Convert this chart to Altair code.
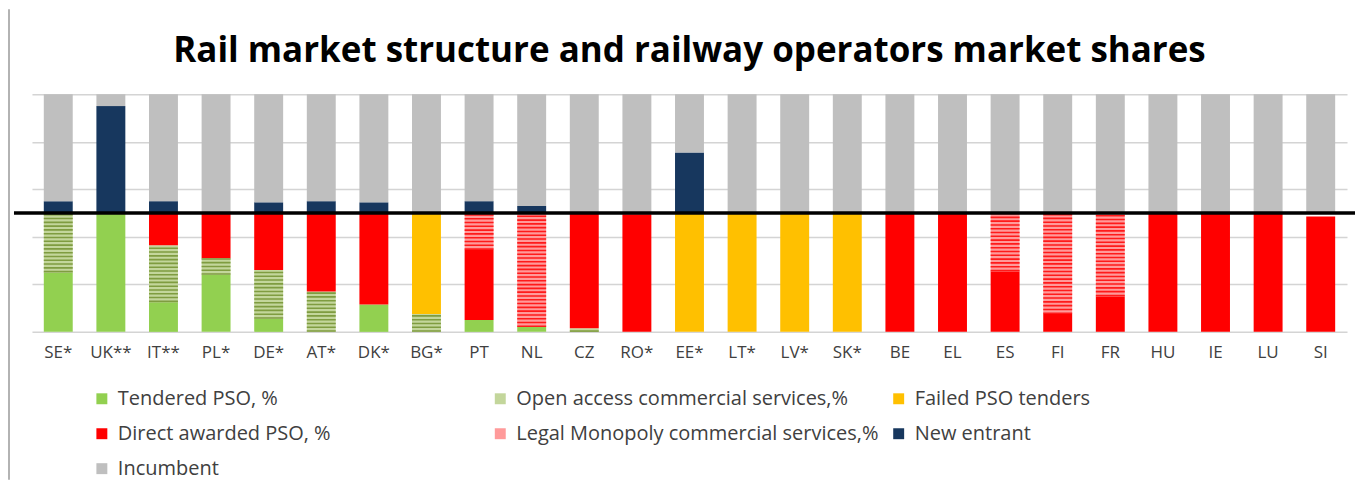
import altair as alt
import pandas as pd

countries = ["SE*", "UK**", "IT**", "PL*", "DE*", "AT*", "DK*", "BG*", "PT", "NL",
             "CZ", "RO*", "EE*", "LT*", "LV*", "SK*", "BE", "EL", "ES", "FI",
             "FR", "HU", "IE", "LU", "SI"]

series_names = ["Tendered PSO, %",
                "Open access commercial services,%",
                "Failed PSO tenders",
                "Direct awarded PSO, %",
                "Legal Monopoly commercial services,%",
                "New entrant",
                "Incumbent"]

tendered    = [0.50, 1.00, 0.25, 0.48, 0.11, 0.00, 0.23, 0.00, 0.10, 0.04,
               0.00, 0.00, 0.00, 0.00, 0.00, 0.00, 0.00, 0.00, 0.00, 0.00,
               0.00, 0.00, 0.00, 0.00, 0.00]
open_access = [0.50, 0.00, 0.48, 0.14, 0.41, 0.34, 0.00, 0.15, 0.00, 0.00,
               0.03, 0.00, 0.00, 0.00, 0.00, 0.00, 0.00, 0.00, 0.00, 0.00,
               0.00, 0.00, 0.00, 0.00, 0.00]
failed      = [0.00, 0.00, 0.00, 0.00, 0.00, 0.00, 0.00, 0.85, 0.00, 0.00,
               0.00, 0.00, 1.00, 1.00, 1.00, 1.00, 0.00, 0.00, 0.00, 0.00,
               0.00, 0.00, 0.00, 0.00, 0.00]
direct      = [0.00, 0.00, 0.27, 0.38, 0.48, 0.66, 0.77, 0.00, 0.59, 0.00,
               0.97, 0.99, 0.00, 0.00, 0.00, 0.00, 1.00, 1.00, 0.51, 0.15,
               0.30, 1.00, 1.00, 1.00, 0.97]
legal       = [0.00, 0.00, 0.00, 0.00, 0.00, 0.00, 0.00, 0.00, 0.31, 0.96,
               0.00, 0.00, 0.00, 0.00, 0.00, 0.00, 0.00, 0.00, 0.49, 0.85,
               0.70, 0.00, 0.00, 0.00, 0.00]
new_entrant = [0.10, 0.90, 0.10, 0.00, 0.09, 0.10, 0.09, 0.00, 0.10, 0.06,
               0.00, 0.00, 0.51, 0.00, 0.00, 0.00, 0.00, 0.00, 0.00, 0.00,
               0.00, 0.00, 0.00, 0.00, 0.00]
incumbent   = [0.90, 0.10, 0.90, 1.00, 0.91, 0.90, 0.91, 1.00, 0.90, 0.94,
               1.00, 1.00, 0.49, 1.00, 1.00, 1.00, 1.00, 1.00, 1.00, 1.00,
               1.00, 1.00, 1.00, 1.00, 1.00]

colors = ["#92d050", "#c3d69b", "#ffc000", "#ff0000", "#ff9a9a", "#17375e", "#bfbfbf"]
hatched = [series_names[1], series_names[4]]
hatch_colors = ["#7f9c40", "#ff1a1a"]

rows = []
lower = [tendered, open_access, failed, direct, legal]
upper = [new_entrant, incumbent]
for i, c in enumerate(countries):
    base = 0.0
    for name, vals in zip(series_names[:5], lower):
        rows.append(dict(country=c, series=name, y0=base, y1=base + vals[i]))
        base += vals[i]
    base = 1.0
    for name, vals in zip(series_names[5:], upper):
        rows.append(dict(country=c, series=name, y0=base, y1=base + vals[i]))
        base += vals[i]
df = pd.DataFrame(rows)
df = df[df.y1 > df.y0]

W, H = 1317, 238
FONT = "Open Sans"
bar_w = W / len(countries) * 0.55

x_enc = alt.X("country:N", sort=countries,
              scale=alt.Scale(paddingInner=0.45, paddingOuter=0.225),
              axis=alt.Axis(title=None, labelAngle=0, ticks=False, domain=False,
                            labelFontSize=17, labelFont=FONT, labelColor="#404040",
                            labelPadding=13))
y_scale = alt.Scale(domain=[0, 2], nice=False, zero=False)

bars = alt.Chart(df).mark_bar().encode(
    x=x_enc,
    y=alt.Y("y0:Q", scale=y_scale,
            axis=alt.Axis(values=[0, 0.4, 0.8, 1.2, 1.6, 2.0], labels=False,
                          ticks=False, domain=False, title=None, grid=True,
                          gridColor="#d4d4d4", gridWidth=1.5)),
    y2="y1:Q",
    color=alt.Color("series:N",
                    scale=alt.Scale(domain=series_names, range=colors),
                    legend=alt.Legend(title=None, orient="none", legendX=60, legendY=295,
                                      direction="horizontal",
                                      columns=3, gridAlign="all", columnPadding=10,
                                      rowPadding=15, symbolType="square", symbolSize=120,
                                      symbolStrokeWidth=0, labelFontSize=20,
                                      labelFont=FONT, labelColor="#404040",
                                      labelOffset=6, labelLimit=600)),
)

hatch = alt.Chart(df).transform_filter(
    alt.FieldOneOfPredicate(field="series", oneOf=hatched)
).mark_rule(strokeWidth=bar_w, strokeDash=[1.6, 2.2], strokeCap="butt").encode(
    x=alt.X("country:N", sort=countries),
    y=alt.Y("y0:Q", scale=y_scale),
    y2="y1:Q",
    stroke=alt.Stroke("series:N", scale=alt.Scale(domain=hatched, range=hatch_colors),
                      legend=None),
)

zero_line = alt.Chart(pd.DataFrame({"v": [1.0]})).mark_rule(
    color="black", strokeWidth=3.5
).encode(y=alt.Y("v:Q", scale=y_scale), x=alt.value(-18), x2=alt.value(1325))

border = alt.Chart(pd.DataFrame({"v": [0]})).mark_rule(
    color="#9a9a9a", strokeWidth=1.5
).encode(x=alt.value(-23), y=alt.value(-85), y2=alt.value(386))

chart = alt.layer(bars, hatch, zero_line, border).resolve_scale(
    color="independent", stroke="independent"
).properties(
    width=W, height=H,
    padding={"left": 0, "top": 0, "right": 0, "bottom": 0},
    title=alt.TitleParams("Rail market structure and railway operators market shares",
                          font=FONT, fontSize=35, fontWeight="bold", color="#000000",
                          anchor="middle", frame="group", offset=0, dy=60),
).configure_view(stroke=None)

chart.save("out.html", embed_options={"renderer": "svg", "actions": False})
